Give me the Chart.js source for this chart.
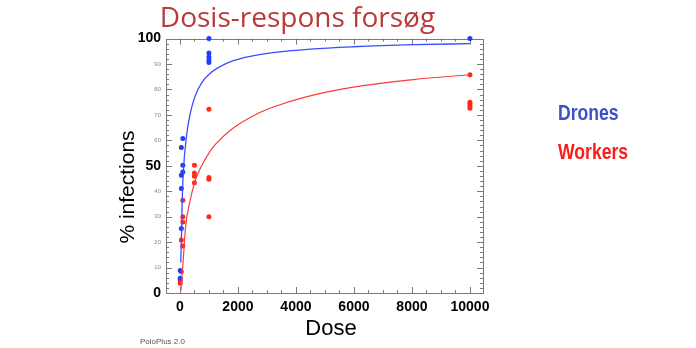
<!DOCTYPE html>
<html>
<head>
<meta charset="utf-8">
<script src="https://cdn.jsdelivr.net/npm/chart.js@4"></script>
<style>
  html, body { margin: 0; padding: 0; background: #fff; }
</style>
</head>
<body>
<canvas id="myChart" width="696" height="348"></canvas>
<script>

// observed infections, drones
let droneDose = [10, 10, 50, 50, 50, 50, 100, 100, 100, 1000, 1000, 1000, 1000, 1000, 10000];
let dronePct  = [5.8, 8.8, 25.4, 41.1, 46.3, 57.2, 47.6, 50.2, 60.7, 90.6, 91.6, 92.8, 94.3, 100, 100];

// observed infections, workers
let workerDose = [10, 10, 50, 50, 100, 100, 100, 100, 500, 500, 500, 500, 1000, 1000, 1000, 1000, 10000, 10000, 10000, 10000, 10000];
let workerPct  = [3.8, 4.9, 8.4, 20.8, 18.5, 27.9, 30, 36.5, 43.3, 45.9, 47.2, 50.2, 30, 44.7, 45.4, 72.2, 72.6, 73.5, 74.3, 75, 85.8];

// fitted response lines
let droneFitDose = [30, 57, 80, 114, 231, 345, 517, 748, 1034, 1552, 2241, 3200, 4500, 5977, 8046, 10000];
let droneFitPct  = [12, 25, 36.5, 47, 62, 70, 77.2, 82.6, 86.3, 90, 92.6, 94.5, 95.9, 96.8, 97.6, 98];
let workerFitDose = [34, 114, 195, 345, 517, 748, 1000, 1207, 1782, 2586, 3200, 4252, 5977, 8046, 10000];
let workerFitPct  = [1, 13, 26, 36, 43.8, 50, 55, 58.2, 64.4, 70, 73, 76.8, 80.9, 83.9, 85.8];

let xTicks = [0, 2000, 4000, 6000, 8000, 10000];
let yTicks = [0, 10, 20, 30, 40, 50, 60, 70, 80, 90, 100];

let seriesNames  = ['Drones', 'Workers'];
let seriesColors = ['#3f4fc8', '#ff1a1a'];

let myChart;

function pts(xs, ys) {
  return xs.map((x, i) => ({ x: x, y: ys[i] }));
}

// 0, 50 and 100 get the big bold labels
function bigTick(c) {
  return c.tick && c.tick.value % 50 === 0;
}

// box round the plot with small inward ticks on all four sides
const frame = {
  id: 'frame',
  beforeDatasetsDraw(chart) {
    const { ctx, chartArea: a, scales: { x, y } } = chart;
    ctx.save();
    ctx.strokeStyle = '#7a7a7a';
    ctx.lineWidth = 1;
    ctx.strokeRect(Math.round(a.left) + 0.5, Math.round(a.top) + 0.5, Math.round(a.width), Math.round(a.height));
    ctx.beginPath();
    for (let v = 0; v <= 10000; v += 500) {
      const px = Math.round(x.getPixelForValue(v)) + 0.5;
      const len = v % 2000 === 0 ? 6 : 3;
      ctx.moveTo(px, a.bottom); ctx.lineTo(px, a.bottom - len);
      ctx.moveTo(px, a.top); ctx.lineTo(px, a.top + len);
    }
    for (let v = 0; v <= 100; v += 2) {
      const py = Math.round(y.getPixelForValue(v)) + 0.5;
      const len = v % 10 === 0 ? 6 : 3;
      ctx.moveTo(a.left, py); ctx.lineTo(a.left + len, py);
      ctx.moveTo(a.right, py); ctx.lineTo(a.right - len, py);
    }
    ctx.stroke();
    ctx.restore();
  }
};

// axis titles, series names on the right and the program note
const notes = {
  id: 'notes',
  afterDraw(chart) {
    const ctx = chart.ctx;
    ctx.save();
    ctx.fillStyle = '#000';
    ctx.textBaseline = 'middle';
    ctx.textAlign = 'center';
    ctx.font = '22px "Liberation Sans", sans-serif';
    ctx.fillText('Dose', 331, 329);

    ctx.save();
    ctx.translate(128, 187);
    ctx.rotate(-Math.PI / 2);
    ctx.font = '21px "Liberation Sans", sans-serif';
    ctx.fillText('% infections', 0, 0);
    ctx.restore();

    // narrow bold labels
    ctx.textAlign = 'left';
    ctx.font = 'bold 22px "Liberation Sans", sans-serif';
    [114, 153].forEach((ty, i) => {
      ctx.save();
      ctx.translate(558, ty);
      ctx.scale(0.8, 1);
      ctx.fillStyle = seriesColors[i];
      ctx.fillText(seriesNames[i], 0, 0);
      ctx.restore();
    });

    ctx.font = '8px "Liberation Sans", sans-serif';
    ctx.fillStyle = '#555';
    ctx.fillText('PoloPlus 2.0', 140, 342);
    ctx.restore();
  }
};

const ctx = document.getElementById('myChart');

myChart = new Chart(ctx, {
  type: 'scatter',
  data: {
    datasets: [
      {
        type: 'line',
        data: pts(droneFitDose, droneFitPct),
        borderColor: '#3a4cff',
        borderWidth: 1.3,
        pointRadius: 0,
        cubicInterpolationMode: 'monotone',
        fill: false
      },
      {
        type: 'line',
        data: pts(workerFitDose, workerFitPct),
        borderColor: '#ff3b3b',
        borderWidth: 1.2,
        pointRadius: 0,
        cubicInterpolationMode: 'monotone',
        fill: false
      },
      {
        data: pts(droneDose, dronePct),
        backgroundColor: '#1f3cff',
        borderColor: '#1f3cff',
        pointRadius: 2.5,
        borderWidth: 0,
        clip: false
      },
      {
        data: pts(workerDose, workerPct),
        backgroundColor: '#ff2a1a',
        borderColor: '#ff2a1a',
        pointRadius: 2.5,
        borderWidth: 0,
        clip: false
      }
    ]
  },
  options: {
    responsive: false,
    animation: false,
    layout: { padding: { left: 112, right: 213, top: 0, bottom: 0 } },
    plugins: {
      legend: { display: false },
      tooltip: { enabled: false },
      title: {
        display: true,
        text: 'Dosis-respons forsøg',
        color: '#b83a3a',
        font: { family: 'Open Sans', size: 28, weight: 'normal' },
        padding: { top: 2, bottom: 3 }
      }
    },
    scales: {
      x: {
        type: 'linear',
        min: -480,
        max: 10450,
        grid: { display: false, drawTicks: false },
        border: { display: false },
        afterBuildTicks: s => { s.ticks = xTicks.map(v => ({ value: v })); },
        afterFit: s => { s.height = 55; },
        ticks: {
          padding: 6,
          color: '#000',
          maxRotation: 0,
          callback: v => String(v),
          font: { family: 'Liberation Sans', size: 14, weight: 'bold' }
        }
      },
      y: {
        type: 'linear',
        min: 0,
        max: 100,
        grid: { display: false, drawTicks: false },
        border: { display: false },
        afterBuildTicks: s => { s.ticks = yTicks.map(v => ({ value: v })); },
        afterFit: s => { s.width = 54; },
        ticks: {
          padding: 5,
          color: c => (bigTick(c) ? '#000' : '#888'),
          font: c => (bigTick(c)
            ? { family: 'Liberation Sans', size: 14, weight: 'bold' }
            : { family: 'Liberation Sans', size: 6 })
        }
      }
    }
  },
  plugins: [frame, notes]
});

</script>
</body>
</html>
